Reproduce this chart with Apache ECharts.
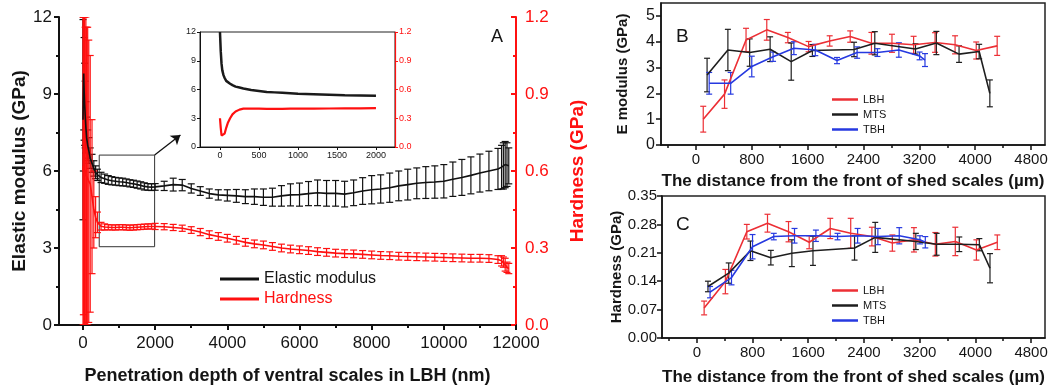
<!DOCTYPE html>
<html><head><meta charset="utf-8">
<script src="https://cdn.jsdelivr.net/npm/echarts@6.0.0/dist/echarts.min.js"></script>
<style>html,body{margin:0;padding:0;background:#fff}#c{width:1053px;height:392px}</style>
</head><body><div id="c"></div>
<script>
const FONT = "'Liberation Sans', Arial, Helvetica, sans-serif";

// ---------- Panel A: depth profile (nm) ----------
const depthA = [0, 10, 20, 30, 45, 60, 80, 100, 130, 160, 200, 250, 300, 350, 400, 500,
  600, 700, 800, 900, 1000, 1100, 1200, 1300, 1400, 1500, 1600, 1700, 1800, 1900, 2000,
  2250, 2500, 2750, 3000, 3250, 3500, 3750, 4000, 4250, 4500, 4750, 5000, 5250, 5500, 5750,
  6000, 6250, 6500, 6750, 7000, 7250, 7500, 7750, 8000, 8250, 8500, 8750, 9000, 9250, 9500,
  9750, 10000, 10250, 10500, 10750, 11000, 11250, 11500, 11600, 11650, 11700, 11750, 11800];
const modulusA = [8.0, 9.0, 9.8, 9.2, 8.6, 8.2, 7.7, 7.3, 7.0, 6.8, 6.5, 6.3, 6.1, 5.95, 5.85, 5.75,
  5.7, 5.65, 5.62, 5.6, 5.58, 5.57, 5.55, 5.52, 5.5, 5.47, 5.44, 5.4, 5.38, 5.37, 5.38,
  5.42, 5.47, 5.45, 5.32, 5.22, 5.12, 5.07, 5.05, 5.03, 5.0, 5.0, 4.98, 4.98, 5.03, 5.07,
  5.08, 5.12, 5.15, 5.13, 5.13, 5.1, 5.15, 5.22, 5.27, 5.3, 5.35, 5.42, 5.47, 5.52, 5.55,
  5.57, 5.6, 5.68, 5.75, 5.83, 5.92, 6.0, 6.08, 6.15, 6.2, 6.25, 6.25, 6.2];
const modulusErrA = [3.9, 3.0, 2.2, 2.0, 1.6, 1.3, 1.0, 0.8, 0.6, 0.5, 0.4, 0.35, 0.3, 0.25, 0.22, 0.2,
  0.18, 0.17, 0.16, 0.15, 0.15, 0.15, 0.14, 0.14, 0.14, 0.14, 0.14, 0.14, 0.13, 0.13, 0.13,
  0.18, 0.25, 0.22, 0.18, 0.17, 0.18, 0.2, 0.22, 0.25, 0.27, 0.3, 0.32, 0.35, 0.4, 0.43,
  0.45, 0.47, 0.5, 0.5, 0.5, 0.5, 0.5, 0.52, 0.55, 0.55, 0.57, 0.58, 0.6, 0.6, 0.62,
  0.63, 0.65, 0.67, 0.7, 0.72, 0.74, 0.77, 0.8, 0.85, 0.9, 0.9, 0.85, 0.7];
const hardnessA = [0.6, 0.62, 0.6, 0.6, 0.6, 0.58, 0.6, 0.58, 0.58, 0.56, 0.55, 0.5, 0.45, 0.42, 0.4, 0.385,
  0.382, 0.381, 0.38, 0.38, 0.381, 0.381, 0.38, 0.379, 0.38, 0.381, 0.382, 0.383, 0.384, 0.384, 0.384,
  0.383, 0.38, 0.377, 0.37, 0.362, 0.352, 0.345, 0.338, 0.33, 0.322, 0.316, 0.312, 0.306, 0.3, 0.296,
  0.293, 0.29, 0.286, 0.283, 0.28, 0.278, 0.277, 0.275, 0.273, 0.271, 0.27, 0.268, 0.267, 0.266, 0.265,
  0.264, 0.263, 0.262, 0.261, 0.26, 0.26, 0.259, 0.255, 0.25, 0.245, 0.235, 0.225, 0.22];
const hardnessErrA = [0.6, 0.58, 0.6, 0.6, 0.6, 0.58, 0.6, 0.58, 0.58, 0.55, 0.5, 0.3, 0.15, 0.08, 0.04, 0.015,
  0.012, 0.01, 0.01, 0.01, 0.01, 0.01, 0.01, 0.01, 0.01, 0.01, 0.01, 0.01, 0.01, 0.01, 0.012,
  0.012, 0.012, 0.012, 0.013, 0.014, 0.015, 0.015, 0.015, 0.015, 0.015, 0.015, 0.015, 0.015, 0.015, 0.015,
  0.015, 0.015, 0.015, 0.015, 0.015, 0.015, 0.015, 0.015, 0.015, 0.015, 0.015, 0.015, 0.015, 0.015, 0.015,
  0.015, 0.015, 0.015, 0.015, 0.015, 0.015, 0.015, 0.015, 0.02, 0.02, 0.025, 0.02, 0.02];
const zoomBox = [[450, 3.05], [1985, 6.62]];
const zoomArrow = [[1985, 6.62], [2700, 7.4]];

// ---------- Inset (0-2000 nm) ----------
const depthInset = [0, 10, 20, 30, 45, 60, 80, 100, 130, 160, 200, 250, 300, 400, 500, 600, 700, 800, 900, 1000, 1200, 1400, 1600, 1800, 2000];
const modulusInset = [12, 10, 8.7, 8.0, 7.5, 7.2, 6.9, 6.8, 6.6, 6.45, 6.3, 6.2, 6.1, 5.95, 5.85, 5.75, 5.7, 5.65, 5.6, 5.55, 5.5, 5.45, 5.4, 5.38, 5.35];
const hardnessInset = [0.3, 0.2, 0.12, 0.1, 0.11, 0.14, 0.2, 0.25, 0.3, 0.34, 0.37, 0.39, 0.4, 0.4, 0.4, 0.398, 0.398, 0.398, 0.4, 0.4, 0.4, 0.402, 0.403, 0.404, 0.405];

// ---------- Panels B & C (distance, um) ----------
const lbhDist = [105, 410, 718, 1015, 1317, 1614, 1916, 2210, 2514, 2808, 3118, 3425, 3712, 4015, 4315];
const lbhModulus = [1.0, 1.97, 4.07, 4.46, 4.16, 3.81, 4.03, 4.2, 3.94, 3.94, 3.88, 3.97, 3.88, 3.66, 3.84];
const lbhModulusErr = [0.5, 0.55, 0.45, 0.4, 0.2, 0.2, 0.2, 0.22, 0.42, 0.35, 0.33, 0.38, 0.35, 0.33, 0.37];
const lbhHardness = [0.074, 0.139, 0.262, 0.283, 0.262, 0.236, 0.27, 0.258, 0.25, 0.234, 0.242, 0.231, 0.238, 0.217, 0.236];
const lbhHardnessErr = [0.017, 0.03, 0.018, 0.022, 0.025, 0.016, 0.025, 0.037, 0.023, 0.02, 0.03, 0.029, 0.035, 0.025, 0.018];

const mtsDist = [160, 458, 770, 1063, 1365, 1668, 2265, 2562, 3145, 3444, 3769, 4057, 4210];
const mtsModulus = [2.71, 3.68, 3.58, 3.71, 3.23, 3.66, 3.7, 3.94, 3.72, 3.95, 3.52, 3.62, 2.0];
const mtsModulusErr = [0.65, 0.8, 0.53, 0.48, 0.72, 0.23, 0.28, 0.45, 0.2, 0.45, 0.32, 0.28, 0.52];
const mtsHardness = [0.127, 0.16, 0.215, 0.198, 0.209, 0.215, 0.222, 0.248, 0.238, 0.231, 0.231, 0.23, 0.172];
const mtsHardnessErr = [0.013, 0.025, 0.024, 0.018, 0.033, 0.036, 0.03, 0.037, 0.02, 0.027, 0.018, 0.015, 0.036];

const tbhDist = [190, 498, 800, 1105, 1403, 1710, 2021, 2309, 2600, 2907, 3204, 3281];
const tbhModulus = [2.39, 2.39, 3.04, 3.42, 3.75, 3.68, 3.27, 3.58, 3.58, 3.68, 3.45, 3.29];
const tbhModulusErr = [0.42, 0.42, 0.4, 0.18, 0.25, 0.22, 0.12, 0.22, 0.15, 0.28, 0.15, 0.25];
const tbhHardness = [0.113, 0.149, 0.225, 0.25, 0.252, 0.252, 0.25, 0.252, 0.25, 0.252, 0.242, 0.236];
const tbhHardnessErr = [0.014, 0.018, 0.03, 0.008, 0.018, 0.014, 0.008, 0.018, 0.02, 0.02, 0.01, 0.014];

// ---------- tick labels ----------
const xTicksA = [0, 2000, 4000, 6000, 8000, 10000, 12000];
const xMinorA = [1000, 3000, 5000, 7000, 9000, 11000];
const xTicksInset = [0, 500, 1000, 1500, 2000];
const xTicksBC = [0, 800, 1600, 2400, 3200, 4000, 4800];
const xMinorBC = [-400, 400, 1200, 2000, 2800, 3600, 4400];
const yTicksB = [0, 1, 2, 3, 4, 5];
const yTicksC = [0, 0.07, 0.14, 0.21, 0.28, 0.35];

const RED_A = '#ff1010', BLACK = '#111111';
const RED_B = '#ec2f35', BLUE_B = '#2639e0', BLACK_B = '#1e1e1e';
const plain = v => String(v);

function errBars(name, xs, ys, es, xi, yi, color, cap, lw) {
  return {
    name: name, type: 'custom', xAxisIndex: xi, yAxisIndex: yi, silent: true, clip: true,
    animation: false,
    data: xs.map((x, i) => [x, ys[i], es[i]]),
    encode: { x: 0, y: 1 },
    renderItem: function (params, api) {
      const x = api.value(0), y = api.value(1), e = api.value(2);
      const t = api.coord([x, y + e]), b = api.coord([x, y - e]);
      const st = { stroke: color, lineWidth: lw, fill: null };
      return { type: 'group', children: [
        { type: 'line', shape: { x1: t[0], y1: t[1], x2: b[0], y2: b[1] }, style: st },
        { type: 'line', shape: { x1: t[0] - cap, y1: t[1], x2: t[0] + cap, y2: t[1] }, style: st },
        { type: 'line', shape: { x1: b[0] - cap, y1: b[1], x2: b[0] + cap, y2: b[1] }, style: st }
      ] };
    }
  };
}
function lineS(name, xs, ys, xi, yi, color, lw) {
  return { name: name, type: 'line', xAxisIndex: xi, yAxisIndex: yi, silent: true, animation: false,
    data: xs.map((x, i) => [x, ys[i]]), showSymbol: false, symbol: 'none',
    lineStyle: { color: color, width: lw }, itemStyle: { color: color } };
}

function xAxisMain(grid, min, max, labels, opts) {
  return Object.assign({
    type: 'value', gridIndex: grid, min: min, max: max, position: 'bottom',
    splitLine: { show: false },
    axisLine: { show: true, onZero: false, lineStyle: { color: BLACK, width: opts.lw } },
    axisTick: { show: true, customValues: labels, length: opts.tick, lineStyle: { color: BLACK, width: opts.lw } },
    axisLabel: { show: true, customValues: labels, fontSize: opts.fs, color: '#151515', fontFamily: FONT, margin: opts.margin, formatter: plain },
  }, opts.extra || {});
}
function xAxisMinor(grid, min, max, vals, lw, len) {
  return { type: 'value', gridIndex: grid, min: min, max: max, position: 'bottom',
    splitLine: { show: false },
    axisLine: { show: false, onZero: false },
    axisTick: { show: true, customValues: vals, length: len, lineStyle: { color: BLACK, width: lw } },
    axisLabel: { show: false } };
}
const bcTitle = (gap) => ({ name: 'The distance from the front of shed scales (µm)', nameLocation: 'middle', nameGap: gap,
  nameTextStyle: { fontSize: 17, fontWeight: 'bold', color: '#151515', fontFamily: FONT } });

const option = {
  animation: false,
  backgroundColor: '#ffffff',
  textStyle: { fontFamily: FONT },
  grid: [
    { left: 59, top: 17, width: 457, height: 308, show: false },
    { left: 200, top: 32, width: 195, height: 115, show: true, borderColor: '#222', borderWidth: 1, backgroundColor: 'rgba(0,0,0,0)' },
    { left: 661, top: 3, width: 384, height: 142, show: true, borderColor: '#222', borderWidth: 1.5, backgroundColor: 'rgba(0,0,0,0)' },
    { left: 662, top: 196, width: 383, height: 142, show: true, borderColor: '#222', borderWidth: 1.5, backgroundColor: 'rgba(0,0,0,0)' }
  ],
  xAxis: [
    xAxisMain(0, -665, 12000, xTicksA, { lw: 2, tick: 5, fs: 17, margin: 10,
      extra: { name: 'Penetration depth of ventral scales in LBH (nm)', nameLocation: 'middle', nameGap: 42,
        nameTextStyle: { fontSize: 18, fontWeight: 'bold', color: '#151515', fontFamily: FONT } } }),
    xAxisMinor(0, -665, 12000, xMinorA, 2, 3),
    xAxisMain(1, -256, 2244, xTicksInset, { lw: 1, tick: 3, fs: 9, margin: 4 }),
    xAxisMain(2, -500, 5000, xTicksBC, { lw: 1.5, tick: 5, fs: 15, margin: 7, extra: bcTitle(28) }),
    xAxisMinor(2, -500, 5000, xMinorBC, 1.5, 3),
    xAxisMain(3, -500, 5000, xTicksBC, { lw: 1.5, tick: 5, fs: 15, margin: 7, extra: bcTitle(31) }),
    xAxisMinor(3, -500, 5000, xMinorBC, 1.5, 3)
  ],
  yAxis: [
    { type: 'value', gridIndex: 0, min: 0, max: 12, interval: 3, position: 'left',
      splitLine: { show: false },
      axisLine: { show: true, onZero: false, lineStyle: { color: BLACK, width: 2 } },
      axisTick: { show: true, length: 5, lineStyle: { color: BLACK, width: 2 } },
      minorTick: { show: true, splitNumber: 2, length: 3, lineStyle: { color: BLACK, width: 2 } },
      axisLabel: { fontSize: 17, color: '#151515', margin: 7, fontFamily: FONT },
      name: 'Elastic modulus (GPa)', nameLocation: 'middle', nameGap: 28,
      nameTextStyle: { fontSize: 19, fontWeight: 'bold', color: '#151515', fontFamily: FONT } },
    { type: 'value', gridIndex: 0, min: 0, max: 1.2, interval: 0.3, position: 'right',
      splitLine: { show: false },
      axisLine: { show: true, onZero: false, lineStyle: { color: RED_A, width: 2 } },
      axisTick: { show: true, inside: true, length: 5, lineStyle: { color: RED_A, width: 2 } },
      minorTick: { show: true, splitNumber: 2, length: 3, lineStyle: { color: RED_A, width: 2 } },
      axisLabel: { fontSize: 17, color: RED_A, margin: 9, fontFamily: FONT, formatter: v => v.toFixed(1) },
      name: 'Hardness (GPa)', nameLocation: 'middle', nameGap: 52, nameRotate: 90,
      nameTextStyle: { fontSize: 19, fontWeight: 'bold', color: RED_A, fontFamily: FONT } },
    { type: 'value', gridIndex: 1, min: 0, max: 12, interval: 3, position: 'left',
      splitLine: { show: false },
      axisLine: { show: true, onZero: false, lineStyle: { color: BLACK, width: 1 } },
      axisTick: { show: true, length: 3, lineStyle: { color: BLACK, width: 1 } },
      axisLabel: { fontSize: 9, color: '#222', margin: 4, fontFamily: FONT } },
    { type: 'value', gridIndex: 1, min: 0, max: 1.2, interval: 0.3, position: 'right',
      splitLine: { show: false },
      axisLine: { show: true, onZero: false, lineStyle: { color: RED_A, width: 1.2 } },
      axisTick: { show: true, length: 3, lineStyle: { color: RED_A, width: 1 } },
      axisLabel: { fontSize: 9, color: RED_A, margin: 4, fontFamily: FONT, formatter: v => v.toFixed(1) } },
    { type: 'value', gridIndex: 2, min: 0, max: 5.5, position: 'left',
      splitLine: { show: false },
      axisLine: { show: true, onZero: false, lineStyle: { color: BLACK, width: 1.5 } },
      axisTick: { show: true, customValues: yTicksB, length: 5, lineStyle: { color: BLACK, width: 1.5 } },
      axisLabel: { customValues: yTicksB, fontSize: 16, color: '#151515', margin: 6, fontFamily: FONT, formatter: plain },
      name: 'E modulus (GPa)', nameLocation: 'middle', nameGap: 31,
      nameTextStyle: { fontSize: 15, fontWeight: 'bold', color: '#151515', fontFamily: FONT } },
    { type: 'value', gridIndex: 3, min: 0, max: 0.35, position: 'left',
      splitLine: { show: false },
      axisLine: { show: true, onZero: false, lineStyle: { color: BLACK, width: 1.5 } },
      axisTick: { show: true, customValues: yTicksC, length: 5, lineStyle: { color: BLACK, width: 1.5 } },
      axisLabel: { customValues: yTicksC, fontSize: 15, color: '#151515', margin: 5, fontFamily: FONT, formatter: v => v.toFixed(2) },
      name: 'Hardness (GPa)', nameLocation: 'middle', nameGap: 37,
      nameTextStyle: { fontSize: 15, fontWeight: 'bold', color: '#151515', fontFamily: FONT } }
  ],
  legend: [
    { orient: 'vertical', left: 215, top: 266, itemWidth: 39, itemHeight: 3, itemGap: 4, icon: 'rect',
      selectedMode: false,
      textStyle: { fontSize: 16, lineHeight: 16, fontFamily: FONT, color: '#151515' },
      data: [{ name: 'Elastic modulus', textStyle: { color: '#151515' } }, { name: 'Hardness', textStyle: { color: RED_A } }] },
    { orient: 'vertical', left: 827, top: 89, itemWidth: 26, itemHeight: 2.5, itemGap: 4, icon: 'rect',
      selectedMode: false,
      textStyle: { fontSize: 11, lineHeight: 11, fontFamily: FONT, color: '#151515' },
      data: ['LBH', 'MTS', 'TBH'] },
    { orient: 'vertical', left: 827, top: 280, itemWidth: 26, itemHeight: 2.5, itemGap: 4, icon: 'rect',
      selectedMode: false,
      textStyle: { fontSize: 11, lineHeight: 11, fontFamily: FONT, color: '#151515' },
      data: ['LBH', 'MTS', 'TBH'] }
  ],
  graphic: [
    { type: 'text', left: 491, top: 28, style: { text: 'A', font: '18px ' + FONT, fill: '#151515' } },
    { type: 'text', left: 676, top: 27, style: { text: 'B', font: '19px ' + FONT, fill: '#151515' } },
    { type: 'text', left: 676, top: 215, style: { text: 'C', font: '19px ' + FONT, fill: '#151515' } }
  ],
  series: [
    errBars('modErrA', depthA, modulusA, modulusErrA, 0, 0, BLACK, 3.5, 1.2),
    Object.assign(lineS('Elastic modulus', depthA, modulusA, 0, 0, BLACK, 1.6), {
      markArea: { silent: true, label: { show: false },
        itemStyle: { color: 'rgba(0,0,0,0)', borderColor: '#333', borderWidth: 1 },
        data: [[{ coord: zoomBox[0] }, { coord: zoomBox[1] }]] },
      markLine: { silent: true, symbol: ['none', 'arrow'], symbolSize: 9, label: { show: false },
        lineStyle: { color: '#111', width: 1.3, type: 'solid' },
        data: [[{ coord: zoomArrow[0] }, { coord: zoomArrow[1] }]] }
    }),
    errBars('hardErrA', depthA, hardnessA, hardnessErrA, 0, 1, RED_A, 3.5, 1.2),
    lineS('Hardness', depthA, hardnessA, 0, 1, RED_A, 1.6),

    lineS('Elastic modulus inset', depthInset, modulusInset, 2, 2, '#1a1a1a', 2.5),
    lineS('Hardness inset', depthInset, hardnessInset, 2, 3, RED_A, 2.2),

    errBars('lbhErrB', lbhDist, lbhModulus, lbhModulusErr, 3, 4, RED_B, 3, 1.2),
    lineS('LBH', lbhDist, lbhModulus, 3, 4, RED_B, 1.6),
    errBars('mtsErrB', mtsDist, mtsModulus, mtsModulusErr, 3, 4, BLACK_B, 3, 1.2),
    lineS('MTS', mtsDist, mtsModulus, 3, 4, BLACK_B, 1.6),
    errBars('tbhErrB', tbhDist, tbhModulus, tbhModulusErr, 3, 4, BLUE_B, 3, 1.2),
    lineS('TBH', tbhDist, tbhModulus, 3, 4, BLUE_B, 1.6),

    errBars('lbhErrC', lbhDist, lbhHardness, lbhHardnessErr, 5, 5, RED_B, 3, 1.2),
    lineS('LBH', lbhDist, lbhHardness, 5, 5, RED_B, 1.6),
    errBars('mtsErrC', mtsDist, mtsHardness, mtsHardnessErr, 5, 5, BLACK_B, 3, 1.2),
    lineS('MTS', mtsDist, mtsHardness, 5, 5, BLACK_B, 1.6),
    errBars('tbhErrC', tbhDist, tbhHardness, tbhHardnessErr, 5, 5, BLUE_B, 3, 1.2),
    lineS('TBH', tbhDist, tbhHardness, 5, 5, BLUE_B, 1.6)
  ]
};
const chart = echarts.init(document.getElementById('c'), null, { renderer: 'canvas' });
chart.setOption(option);
</script>
</body></html>
